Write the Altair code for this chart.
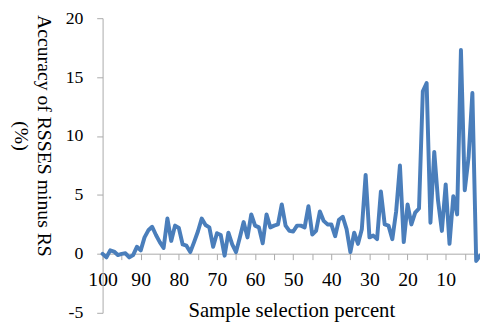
import altair as alt
import pandas as pd

# sample selection percent (100 -> 1)
percent = list(range(100, 0, -1))
# accuracy of RSSES minus RS (%)
accuracy = [
    0.0, -0.3, 0.3, 0.2, -0.1, 0.0, 0.05, -0.3, -0.1, 0.6,
    0.3, 1.4, 2.0, 2.3, 1.6, 1.0, 0.5, 3.0, 1.1, 2.4,
    2.2, 0.8, 0.7, 0.15, 1.0, 1.9, 3.0, 2.45, 2.25, 0.6,
    1.75, 1.6, -0.15, 1.8, 0.8, 0.15, 1.4, 2.7, 1.4, 3.35,
    2.4, 2.25, 0.9, 3.35, 2.25, 2.4, 2.5, 4.2, 2.4, 1.95,
    1.9, 2.4, 2.4, 2.25, 4.05, 1.65, 1.95, 3.6, 2.8, 2.5,
    2.5, 1.5, 2.9, 3.15, 2.1, 0.15, 1.8, 0.85, 2.1, 6.7,
    1.4, 1.55, 1.25, 5.3, 2.5, 2.4, 1.25, 3.6, 7.5, 1.0,
    4.2, 2.5, 3.5, 3.85, 13.8, 14.5, 2.65, 8.65, 4.5, 1.95,
    5.9, 0.85, 4.9, 3.35, 17.3, 5.4, 8.2, 13.65, -0.6, -0.15,
]
x_ticks = list(range(100, 0, -5))
y_ticks = [-5, 0, 5, 10, 15, 20]

df = pd.DataFrame({"percent": percent, "accuracy": accuracy})

FONT = "Liberation Serif"
AXIS_GRAY = "#aaaaaa"

chart = (
    alt.Chart(df)
    .mark_line(color="#4a7ebb", strokeWidth=4, strokeJoin="round", strokeCap="round")
    .encode(
        x=alt.X(
            "percent:Q",
            scale=alt.Scale(domain=[1, 100], reverse=True, nice=False, zero=False),
            axis=alt.Axis(
                values=x_ticks,
                labelExpr="datum.value % 10 === 0 ? '' + datum.value : ''",
                title="Sample selection percent",
                titleFont=FONT,
                titleFontSize=21,
                titleFontWeight="normal",
                titleColor="black",
                titleY=47,
                titleBaseline="top",
                labelFont=FONT,
                labelFontSize=20,
                labelColor="black",
                labelBaseline="middle",
                labelPadding=20,
                labelFlush=False,
                labelOverlap=False,
                tickSize=6,
                tickColor=AXIS_GRAY,
                domainColor=AXIS_GRAY,
                offset=-60,
                grid=False,
            ),
        ),
        y=alt.Y(
            "accuracy:Q",
            scale=alt.Scale(domain=[-5, 20], nice=False, zero=False),
            axis=alt.Axis(
                values=y_ticks,
                labelExpr="'' + datum.value",
                title=["Accuracy of RSSES minus RS", "(%)"],
                titleFont=FONT,
                titleFontSize=20,
                titleFontWeight="normal",
                titleColor="black",
                titleAngle=90,
                titleAlign="center",
                titleBaseline="middle",
                titleLineHeight=23,
                titleX=-60,
                titleY=119,
                labelFont=FONT,
                labelFontSize=18,
                labelColor="black",
                labelPadding=14,
                labelFlush=False,
                tickSize=6,
                tickColor=AXIS_GRAY,
                domainColor=AXIS_GRAY,
                grid=False,
            ),
        ),
    )
    .properties(
        width=383,
        height=299,
        autosize=alt.AutoSizeParams(type="none"),
        padding={"left": 96, "top": 8, "right": 0, "bottom": 8},
        background="white",
    )
    .configure_view(strokeWidth=0)
)

chart.save("out.html", embed_options={"renderer": "svg", "actions": False})
